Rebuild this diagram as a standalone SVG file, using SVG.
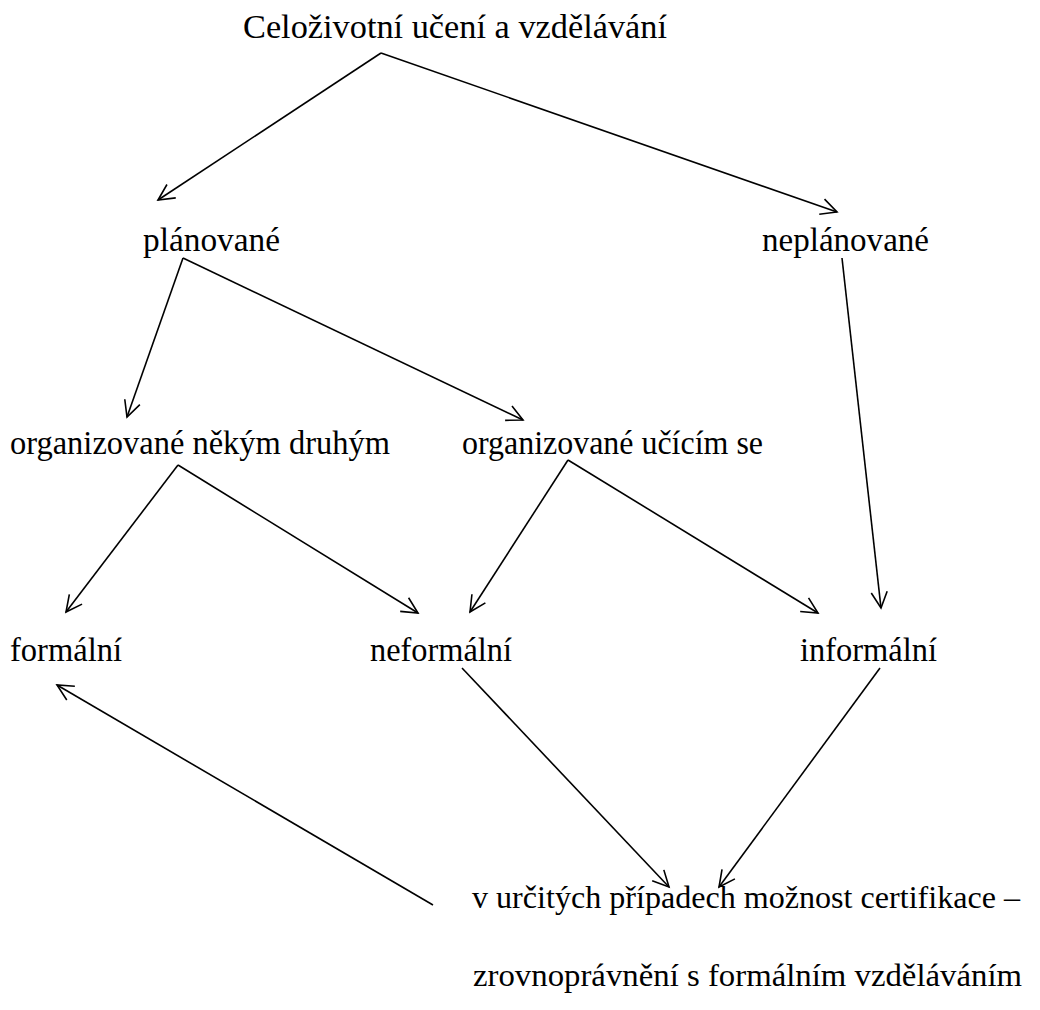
<svg xmlns="http://www.w3.org/2000/svg" width="1040" height="1010" viewBox="0 0 1040 1010">
<style>
text{font-family:"Liberation Serif","Times New Roman",serif;font-size:34px;fill:#000}
text.sm{font-size:32px}
.c line{stroke:#000;stroke-width:1.6;fill:none}
</style>
<defs>
<marker id="ah" markerUnits="userSpaceOnUse" markerWidth="30" markerHeight="30" refX="0" refY="0" viewBox="-20 -15 30 30" orient="auto" overflow="visible">
<path d="M-16,-8 L0,0 L-16,8" fill="none" stroke="#000" stroke-width="1.6"/>
</marker>
</defs>
<rect width="1040" height="1010" fill="#fff"/>
<g id="n-root"><text x="243" y="38" textLength="424" lengthAdjust="spacingAndGlyphs">Celoživotní učení a vzdělávání</text></g>
<g id="n-planovane"><text x="143" y="251" textLength="137" lengthAdjust="spacingAndGlyphs">plánované</text></g>
<g id="n-neplanovane"><text x="762" y="251" textLength="167" lengthAdjust="spacingAndGlyphs">neplánované</text></g>
<g id="n-org-druhym"><text x="10" y="454" textLength="380" lengthAdjust="spacingAndGlyphs">organizované někým druhým</text></g>
<g id="n-org-ucicim"><text x="462" y="454" textLength="301" lengthAdjust="spacingAndGlyphs">organizované učícím se</text></g>
<g id="n-formalni"><text x="10" y="661" textLength="112" lengthAdjust="spacingAndGlyphs">formální</text></g>
<g id="n-neformalni"><text x="370" y="661" textLength="142" lengthAdjust="spacingAndGlyphs">neformální</text></g>
<g id="n-informalni"><text x="800" y="661" textLength="137" lengthAdjust="spacingAndGlyphs">informální</text></g>
<g id="n-certifikace">
<text class="sm" x="472" y="908" textLength="548" lengthAdjust="spacingAndGlyphs">v určitých případech možnost certifikace –</text>
<text class="sm" x="473" y="986" textLength="549" lengthAdjust="spacingAndGlyphs">zrovnoprávnění s formálním vzděláváním</text>
</g>
<g id="connectors" class="c">
<line x1="381" y1="53" x2="158" y2="200" marker-end="url(#ah)"/>
<line x1="381" y1="53" x2="837" y2="212" marker-end="url(#ah)"/>
<line x1="183" y1="258" x2="127" y2="417" marker-end="url(#ah)"/>
<line x1="183" y1="258" x2="523" y2="420" marker-end="url(#ah)"/>
<line x1="842" y1="258" x2="881" y2="608" marker-end="url(#ah)"/>
<line x1="178" y1="465" x2="66" y2="612" marker-end="url(#ah)"/>
<line x1="178" y1="465" x2="418" y2="613" marker-end="url(#ah)"/>
<line x1="568" y1="460" x2="470" y2="612" marker-end="url(#ah)"/>
<line x1="568" y1="460" x2="818" y2="613" marker-end="url(#ah)"/>
<line x1="462" y1="668" x2="669" y2="887" marker-end="url(#ah)"/>
<line x1="880" y1="668" x2="719" y2="887" marker-end="url(#ah)"/>
<line x1="433" y1="905" x2="57" y2="685" marker-end="url(#ah)"/>
</g>
</svg>
